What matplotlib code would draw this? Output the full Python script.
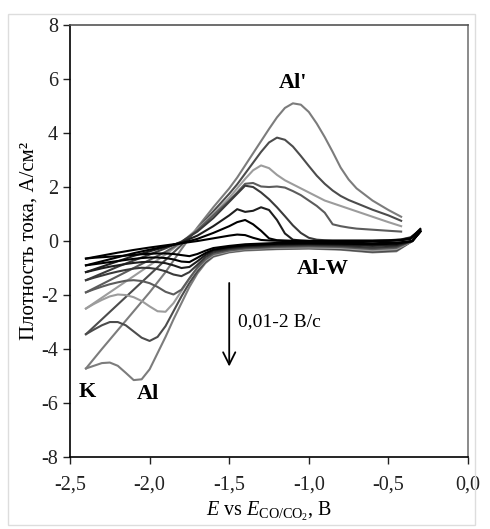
import numpy as np
import matplotlib
matplotlib.use("Agg")
import matplotlib.pyplot as plt
from matplotlib.patches import Rectangle

plt.rcParams['font.family'] = ['Liberation Serif', 'DejaVu Serif']
plt.rcParams['mathtext.fontset'] = 'custom'
plt.rcParams['mathtext.rm'] = 'Liberation Serif'
plt.rcParams['mathtext.it'] = 'Liberation Serif:italic'

nan = np.nan

# potential grids (V vs CO/CO2)
E_cath = [-0.30, -0.35, -0.45, -0.60, -0.80, -1.00, -1.20, -1.40, -1.50, -1.60, -1.65, -1.70, -1.75,
          -1.80, -1.85, -1.90, -1.95, -2.00, -2.05, -2.10, -2.15, -2.20, -2.25, -2.30, -2.35, -2.40]
E_anod = [-2.40, -2.30, -2.20, -2.10, -2.00, -1.90, -1.80, -1.70, -1.60, -1.50, -1.45, -1.40, -1.35,
          -1.30, -1.25, -1.20, -1.15, -1.10, -1.05, -1.00, -0.95, -0.90, -0.85, -0.80, -0.75, -0.70,
          -0.60, -0.50, -0.42, -0.36, -0.30]

# cathodic branches, current density A/cm2 (fastest scan first)
c1_cath = [0.35, 0.00, -0.38, -0.42, -0.32, -0.28, -0.30, -0.35, -0.42, -0.58, -0.82, -1.20, -1.70,
           -2.30, -2.90, -3.55, -4.15, -4.75, -5.12, -5.15, -4.88, -4.62, -4.50, -4.52, -4.62, -4.72]
c2_cath = [0.35, 0.00, -0.35, -0.40, -0.30, -0.26, -0.28, -0.32, -0.40, -0.55, -0.78, -1.12, -1.55,
           -2.05, -2.60, -3.15, -3.55, -3.70, -3.58, -3.35, -3.12, -3.00, -3.00, -3.12, -3.28, -3.45]
c3_cath = [0.35, 0.00, -0.30, -0.35, -0.26, -0.24, -0.25, -0.30, -0.38, -0.52, -0.72, -1.02, -1.40,
           -1.85, -2.30, -2.62, -2.60, -2.42, -2.22, -2.08, -2.00, -1.98, -2.05, -2.18, -2.33, -2.50]
c4_cath = [0.35, 0.00, -0.25, -0.30, -0.22, -0.20, -0.22, -0.28, -0.35, -0.48, -0.68, -0.98, -1.38,
           -1.80, -1.98, -1.88, -1.70, -1.56, -1.48, -1.45, -1.47, -1.53, -1.60, -1.69, -1.79, -1.90]
c5_cath = [0.35, 0.00, -0.20, -0.25, -0.18, -0.16, -0.18, -0.24, -0.30, -0.42, -0.60, -0.88, -1.15,
           -1.30, -1.24, -1.12, -1.04, -1.00, -0.99, -1.02, -1.07, -1.13, -1.20, -1.28, -1.36, -1.45]
c6_cath = [0.35, 0.00, -0.15, -0.18, -0.14, -0.12, -0.14, -0.20, -0.26, -0.36, -0.52, -0.75, -0.96,
           -1.00, -0.90, -0.82, -0.78, -0.77, -0.78, -0.81, -0.85, -0.90, -0.95, -1.01, -1.08, -1.15]
c7_cath = [0.35, 0.00, -0.10, -0.12, -0.10, -0.09, -0.10, -0.16, -0.22, -0.32, -0.45, -0.62, -0.78,
           -0.76, -0.68, -0.63, -0.61, -0.61, -0.63, -0.66, -0.70, -0.74, -0.78, -0.82, -0.86, -0.90]
c8_cath = [0.35, 0.00, -0.06, -0.08, -0.06, -0.06, -0.07, -0.12, -0.18, -0.26, -0.36, -0.48, -0.56,
           -0.52, -0.48, -0.46, -0.46, -0.47, -0.49, -0.51, -0.54, -0.56, -0.58, -0.60, -0.62, -0.65]

# anodic (reverse) branches
c1_anod = [-4.72, -4.00, -3.30, -2.60, -1.90, -1.15, -0.30, 0.50, 1.25, 1.95, 2.35, 2.80, 3.25,
           3.70, 4.15, 4.58, 4.93, 5.10, 5.05, 4.78, 4.35, 3.85, 3.30, 2.72, 2.28, 1.95,
           1.50, 1.15, 0.90, nan, nan]
c2_anod = [-3.45, -2.90, -2.35, -1.80, -1.25, -0.70, -0.15, 0.45, 1.10, 1.75, 2.10, 2.50, 2.90,
           3.30, 3.65, 3.83, 3.75, 3.50, 3.15, 2.78, 2.42, 2.12, 1.87, 1.67, 1.52, 1.40,
           1.16, 0.95, 0.75, nan, nan]
c3_anod = [-2.50, -2.10, -1.70, -1.30, -0.90, -0.50, -0.05, 0.45, 1.00, 1.60, 1.95, 2.30, 2.62,
           2.80, 2.70, 2.45, 2.25, 2.10, 1.95, 1.80, 1.65, 1.50, 1.40, 1.30, 1.20, 1.10,
           0.90, 0.70, 0.55, nan, nan]
c4_anod = [-1.90, -1.60, -1.30, -1.00, -0.70, -0.40, -0.05, 0.40, 0.95, 1.50, 1.80, 2.12, 2.15,
           2.02, 2.00, 2.02, 1.98, 1.85, 1.70, 1.50, 1.30, 1.05, 0.62, 0.55, 0.50, 0.46,
           0.42, 0.38, 0.35, nan, nan]
c5_anod = [-1.45, -1.20, -0.95, -0.72, -0.50, -0.27, -0.02, 0.35, 0.85, 1.45, 1.75, 2.05, 2.00,
           1.80, 1.55, 1.25, 0.92, 0.58, 0.30, 0.12, 0.05, 0.03, 0.02, 0.02, 0.02, 0.02,
           0.02, 0.03, 0.06, 0.14, 0.40]
c6_anod = [-1.15, -0.95, -0.75, -0.55, -0.38, -0.22, -0.05, 0.20, 0.55, 0.95, 1.18, 1.08, 1.12,
           1.25, 1.15, 0.78, 0.28, 0.05, 0.02, 0.01, 0.01, 0.01, 0.01, 0.01, 0.01, 0.01,
           0.01, 0.02, 0.05, 0.12, 0.42]
c7_anod = [-0.90, -0.75, -0.60, -0.45, -0.32, -0.20, -0.08, 0.08, 0.30, 0.55, 0.70, 0.78, 0.62,
           0.38, 0.10, 0.03, 0.02, 0.01, 0.01, 0.00, 0.00, 0.00, 0.00, 0.00, 0.00, 0.00,
           0.00, 0.01, 0.04, 0.10, 0.45]
c8_anod = [-0.65, -0.54, -0.43, -0.33, -0.24, -0.16, -0.08, 0.00, 0.10, 0.20, 0.24, 0.22, 0.12,
           0.04, 0.02, 0.01, 0.00, 0.00, 0.00, 0.00, 0.00, 0.00, 0.00, 0.00, 0.00, 0.00,
           0.00, 0.01, 0.03, 0.08, 0.38]

cath_list = [c1_cath, c2_cath, c3_cath, c4_cath, c5_cath, c6_cath, c7_cath, c8_cath]
anod_list = [c1_anod, c2_anod, c3_anod, c4_anod, c5_anod, c6_anod, c7_anod, c8_anod]
colors = ['#7c7c7c', '#4c4c4c', '#9c9c9c', '#5c5c5c', '#3a3a3a', '#1e1e1e', '#000000', '#000000']

x_ticks = [-2.5, -2.0, -1.5, -1.0, -0.5, 0.0]
x_ticklabels = ['-2,5', '-2,0', '-1,5', '-1,0', '-0,5', '0,0']
y_ticks = [-8, -6, -4, -2, 0, 2, 4, 6, 8]
y_ticklabels = ['-8', '-6', '-4', '-2', '0', '2', '4', '6', '8']

fig = plt.figure(figsize=(4.9, 5.29), dpi=100)
ax = fig.add_axes([0.1429, 0.136, 0.8122, 0.8167])

for cath, anod, col in zip(cath_list, anod_list, colors):
    ax.plot(E_cath, cath, color=col, lw=1.5, solid_joinstyle='round')
    ax.plot(E_anod, anod, color=col, lw=1.5, solid_joinstyle='round')

ax.set_xlim(-2.5, 0.0)
ax.set_ylim(-8, 8)
ax.set_xticks(x_ticks)
ax.set_xticklabels(x_ticklabels)
ax.set_yticks(y_ticks)
ax.set_yticklabels(y_ticklabels)
ax.tick_params(direction='out', length=5, width=1, labelsize=14.5, colors='#222222')
ax.tick_params(axis='x', pad=8)

ax.spines['left'].set_color('black')
ax.spines['bottom'].set_color('black')
ax.spines['top'].set_color('#555555')
ax.spines['right'].set_color('#777777')
for s in ax.spines.values():
    s.set_linewidth(1.2)

ax.set_xlabel(r'$E$ vs $E_{\mathrm{CO/CO_2}}$, В', fontsize=14.5, labelpad=4)
ax.set_ylabel('Плотность тока, А/см²', fontsize=15, labelpad=2)

# peak labels
ax.text(-1.10, 5.85, "Al'", fontsize=16, fontweight='bold', ha='center', va='center')
ax.text(-0.91, -1.05, 'Al-W', fontsize=16, fontweight='bold', ha='center', va='center')
ax.text(-2.39, -5.6, 'K', fontsize=16, fontweight='bold', ha='center', va='center')
ax.text(-2.01, -5.65, 'Al', fontsize=16, fontweight='bold', ha='center', va='center')

# scan rate arrow
ax.annotate('', xy=(-1.5, -4.75), xytext=(-1.5, -1.45),
            arrowprops=dict(arrowstyle='->', color='black', lw=1.3, mutation_scale=22))
ax.text(-1.445, -3.0, '0,01-2 В/с', fontsize=14, ha='left', va='center')

fig.patches.append(Rectangle((0.016, 0.008), 0.953, 0.965, transform=fig.transFigure,
                             fill=False, edgecolor='#dddddd', lw=1))

fig.savefig('out.png', dpi=100)
